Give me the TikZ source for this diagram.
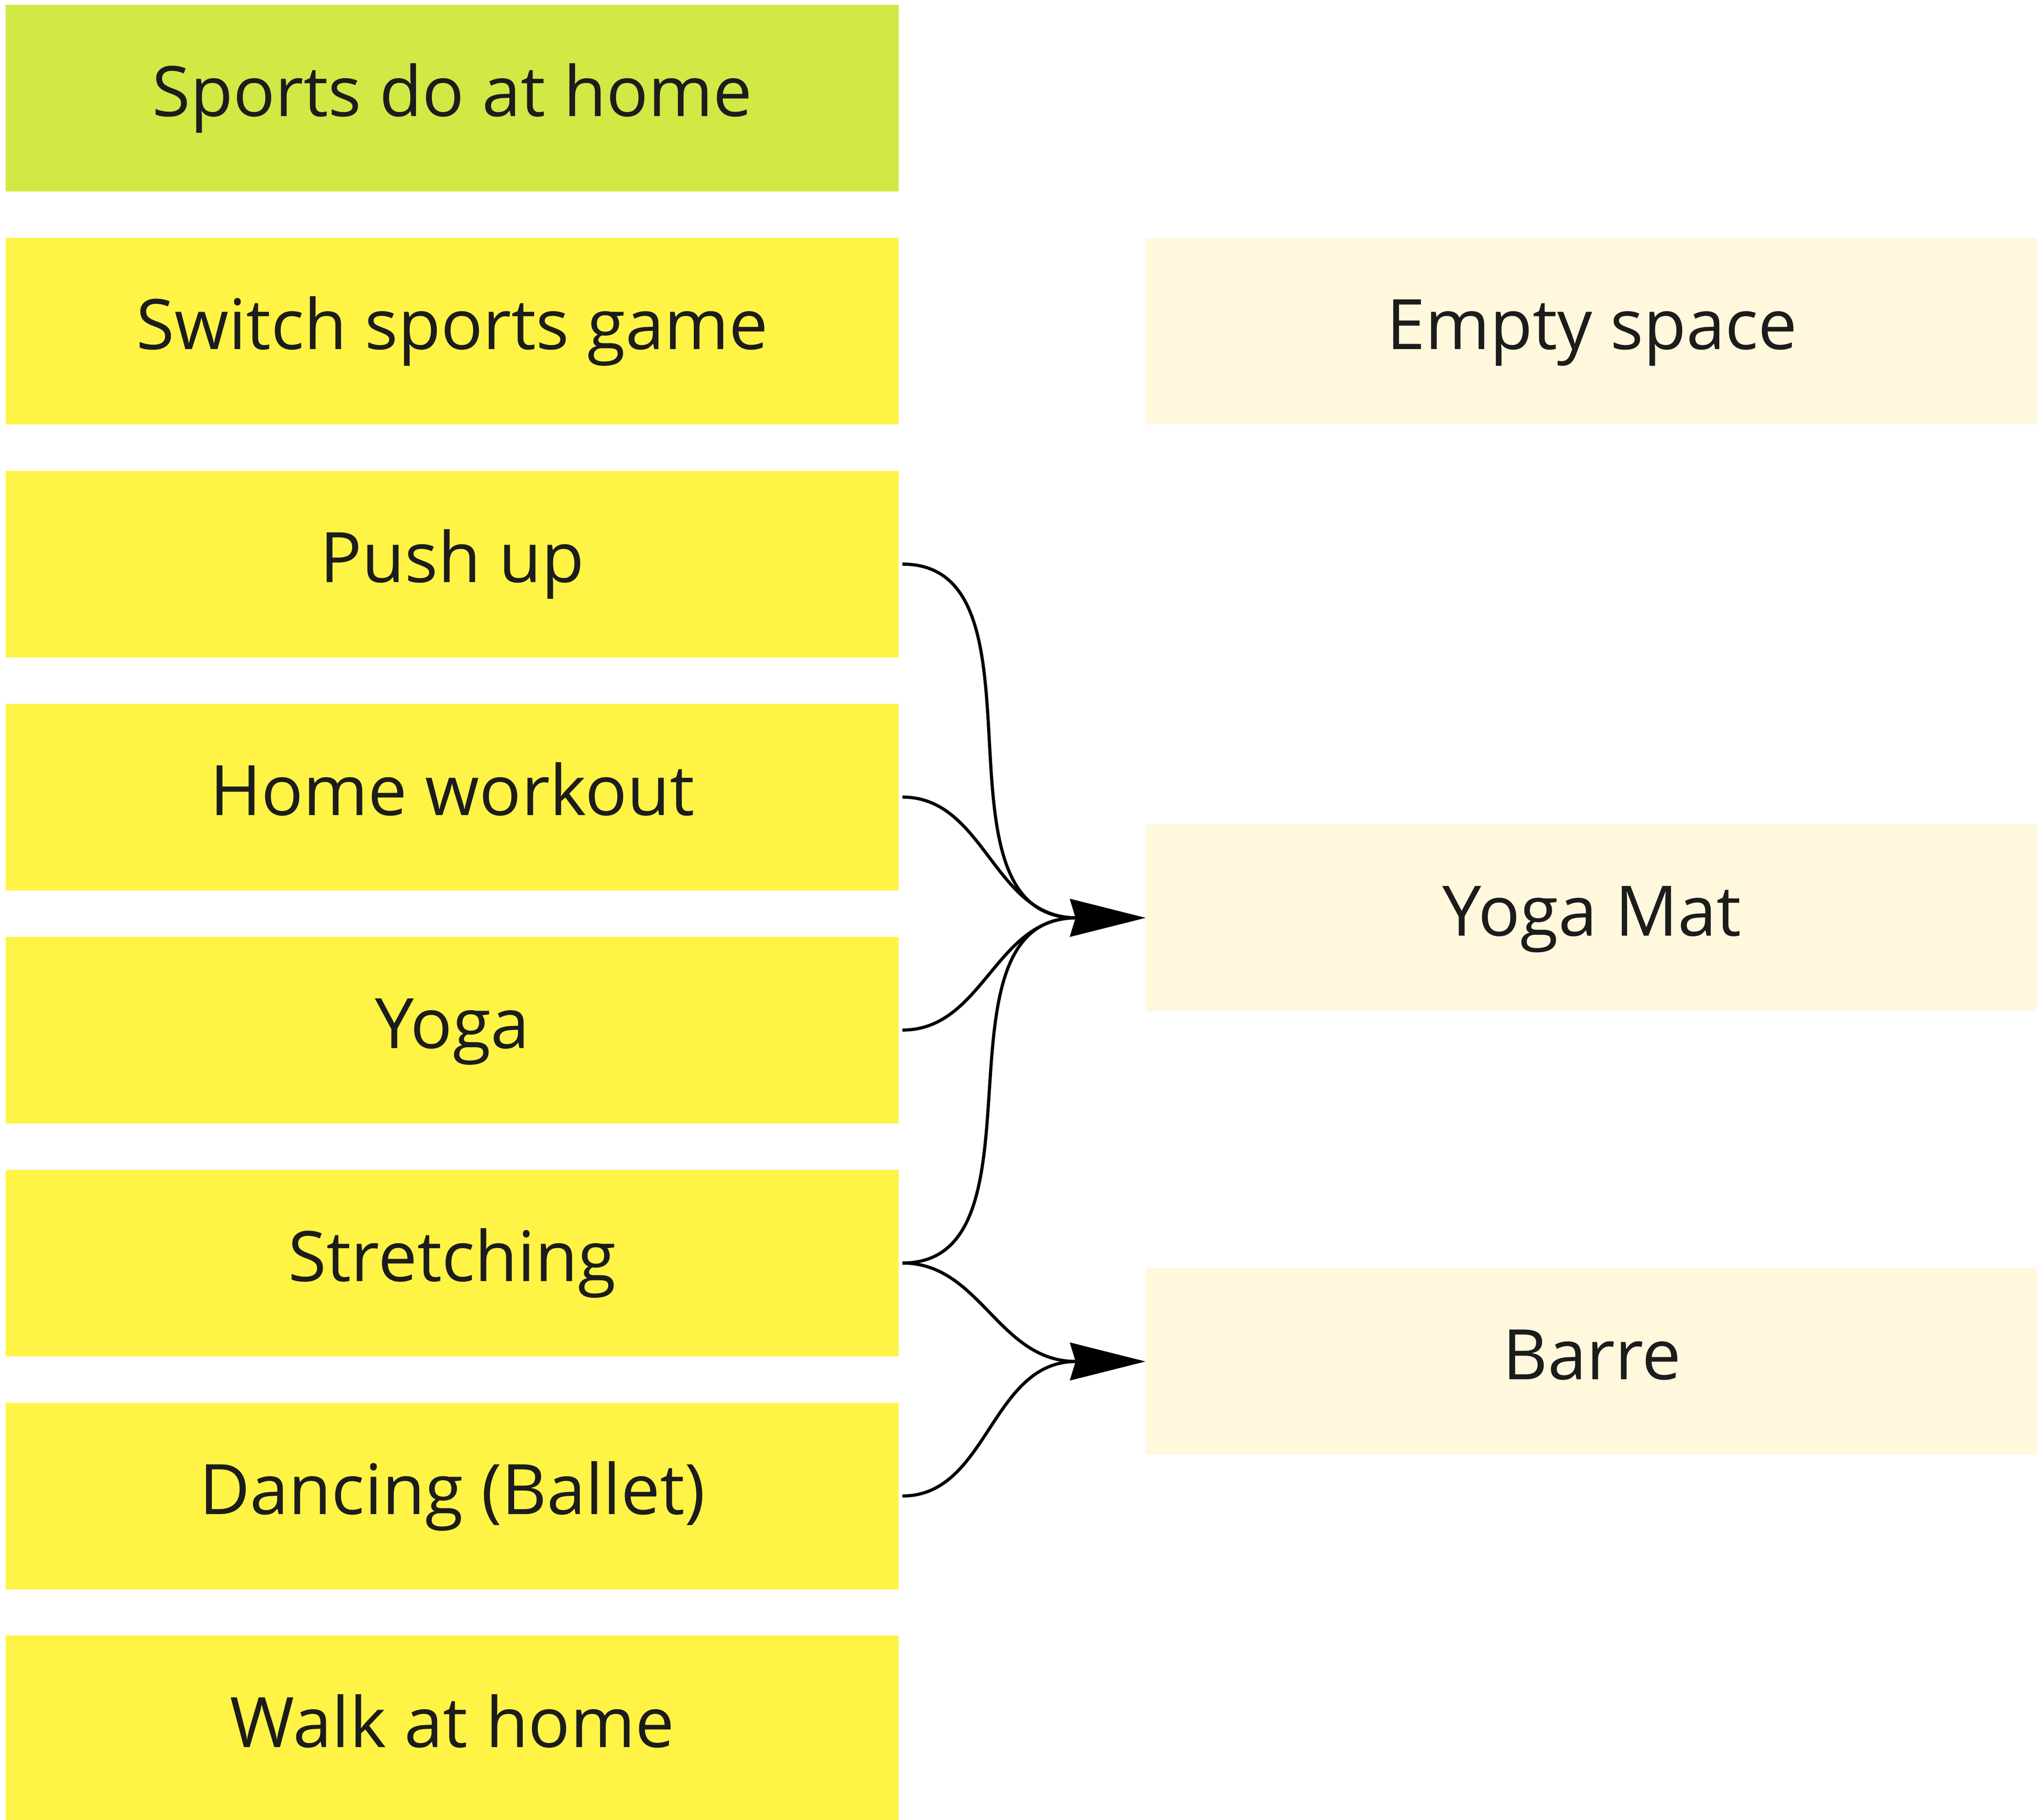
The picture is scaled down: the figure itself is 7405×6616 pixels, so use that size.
\documentclass[tikz,border=0pt]{standalone}
\usepackage{fontspec}
\setmainfont{Open Sans}
\usetikzlibrary{arrows.meta}
\definecolor{hdr}{HTML}{D1E845}
\definecolor{yel}{HTML}{FFF445}
\definecolor{cream}{HTML}{FFF8DD}
\definecolor{txt}{HTML}{1C1C1C}
\tikzset{
  box/.style={rectangle, inner sep=0pt, minimum width=32.44cm, minimum height=6.78cm,
    text height=1.9cm, text depth=0.58cm,
    text=txt, font=\fontsize{72}{86}\selectfont},
  lbox/.style={box, fill=yel},
  rbox/.style={box, fill=cream},
  link/.style={draw=black, line width=0.115cm,
    -{Stealth[length=2.73cm, width=1.36cm, inset=0.2cm]}},
}
\begin{document}
\begin{tikzpicture}[x=0.01cm, y=-0.01cm]
\useasboundingbox (0,0) rectangle (7405,6616);
\begin{scope}
\clip (0,0) rectangle (7405,6616);
\node[box, fill=hdr] (sports) at (1644,357) {Sports do at home};
\node[lbox] (switch) at (1644,1204) {Switch sports game};
\node[lbox] (push) at (1644,2051) {Push up};
\node[lbox] (home) at (1644,2898) {Home workout};
\node[lbox] (yoga) at (1644,3745) {Yoga};
\node[lbox] (stretch) at (1644,4592) {Stretching};
\node[lbox] (dance) at (1644,5439) {Dancing (Ballet)};
\node[lbox] (walk) at (1644,6286) {Walk at home};
\node[rbox] (empty) at (5787,1204) {Empty space};
\node[rbox] (mat) at (5787,3337) {Yoga Mat};
\node[rbox] (barre) at (5787,4950) {Barre};
\end{scope}
\foreach \s/\t in {push/mat, home/mat, yoga/mat, stretch/mat, stretch/barre, dance/barre}{
  \draw[link] ([xshift=0.13cm]\s.east) to[out=0,in=180] ([xshift=-2.51cm]\t.west) -- (\t.west);
}
\end{tikzpicture}
\end{document}
